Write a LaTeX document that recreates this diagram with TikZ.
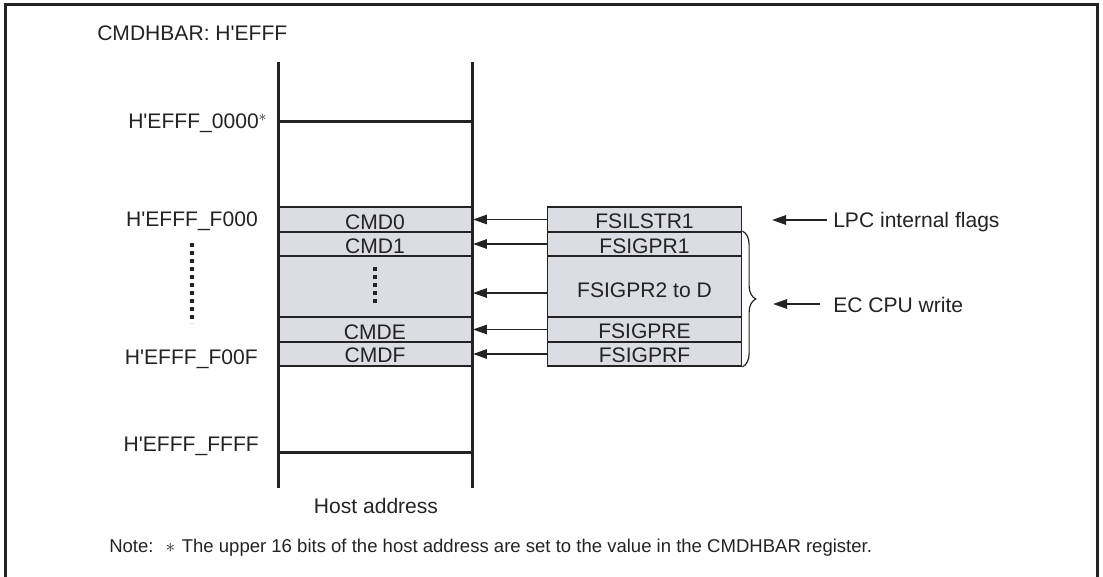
\documentclass[tikz,border=0pt]{standalone}
\usepackage{fontspec}
\setmainfont{Liberation Sans}
\usetikzlibrary{arrows.meta,decorations.pathreplacing}
\definecolor{regfill}{RGB}{220,221,226}
\definecolor{ink}{RGB}{35,35,35}
\newcommand{\qs}{\textquotesingle}
\newcommand{\supast}{\raisebox{5.3pt}{\fontsize{13pt}{13pt}\selectfont$\ast$}}
\begin{document}
\begin{tikzpicture}[x=0.75pt,y=-0.75pt,
  every node/.style={inner sep=0pt, text=ink},
  lbl/.style={font=\fontsize{15.8pt}{19pt}\selectfont},
  notefont/.style={font=\fontsize{13.9pt}{17pt}\selectfont},
  regbox/.style={draw=ink, line width=1.4pt, fill=regfill, minimum width=145.5pt},
  rowa/.style={minimum height=18.75pt},
  rowb/.style={minimum height=18pt},
  rowc/.style={minimum height=45.75pt},
  regtext/.style={lbl, anchor=base},
  thick line/.style={draw=ink, line width=2.25pt},
  arr/.style={draw=ink, line width=1.4pt, -{Triangle[length=10.5pt,width=7pt]}},
  dotline/.style={draw=ink, line width=2.3pt, dash pattern=on 3.3pt off 2.7pt},
  bracestyle/.style={draw=ink, line width=0.9pt, decorate, decoration={brace, amplitude=10pt}}
]
\useasboundingbox (0,0) rectangle (1103,577);

% frame (open at the bottom edge)
\draw[thick line] (5,577) -- (5,5) -- (1097,5) -- (1097,577);

% title
\node[lbl, anchor=base west] (title) at (97,41) {CMDHBAR: H\qs EFFF};

% left column boxes
\node[regbox, rowa] (c0) at (375,219.5) {};
\node[regbox, rowb] (c1) at (375,244) {};
\node[regbox, rowc] (c2) at (375,286.5) {};
\node[regbox, rowa] (c3) at (375,329.5) {};
\node[regbox, rowb] (c4) at (375,354) {};
\node[regtext] (c0t) at ([yshift=2.4pt]c0.south) {CMD0};
\node[regtext] (c1t) at ([yshift=2.4pt]c1.south) {CMD1};
\node[regtext] (c3t) at ([yshift=2.8pt]c3.south) {CMDE};
\node[regtext] (c4t) at ([yshift=3.0pt]c4.south) {CMDF};
\coordinate (cdA) at (375,267);
\coordinate (cdB) at (375,305);
\draw[dotline] (cdA) -- (cdB);

% right column boxes
\node[regbox, rowa] (r0) at (644.5,219.5) {};
\node[regbox, rowb] (r1) at (644.5,244) {};
\node[regbox, rowc] (r2) at (644.5,286.5) {};
\node[regbox, rowa] (r3) at (644.5,329.5) {};
\node[regbox, rowb] (r4) at (644.5,354) {};
\node[regtext] (r0t) at ([yshift=3.0pt]r0.south) {FSILSTR1};
\node[regtext] (r1t) at ([yshift=2.4pt]r1.south) {FSIGPR1};
\node[regtext] (r2t) at ([yshift=-7.9pt]r2.center) {FSIGPR2 to D};
\node[regtext] (r3t) at ([yshift=3.0pt]r3.south) {FSIGPRE};
\node[regtext] (r4t) at ([yshift=3.0pt]r4.south) {FSIGPRF};

% host address column lines
\coordinate (ltop) at (278,62);
\coordinate (lbot) at (278,488);
\coordinate (rtop) at (472,62);
\coordinate (rbot) at (472,488);
\coordinate (a0l) at (278,122);
\coordinate (a0r) at (472,122);
\coordinate (afl) at (278,452);
\coordinate (afr) at (472,452);
\draw[thick line] (ltop) -- (lbot);
\draw[thick line] (rtop) -- (rbot);
\draw[thick line] (a0l) -- (a0r);
\draw[thick line] (afl) -- (afr);

% address labels
\node[lbl, anchor=base east] (a0) at (267,129) {H\qs EFFF\_0000\supast};
\node[lbl, anchor=base east] (a1) at (258,227) {H\qs EFFF\_F000};
\node[lbl, anchor=base east] (a2) at (258,364) {H\qs EFFF\_F00F};
\node[lbl, anchor=base east] (a3) at (259,451) {H\qs EFFF\_FFFF};
\coordinate (ldA) at (192,243);
\coordinate (ldB) at (192,323);
\draw[dotline] (ldA) -- (ldB);

% arrows from flag registers to command registers
\draw[arr] (r0.west) -- (c0.east);
\draw[arr] (r1.west) -- (c1.east);
\draw[arr] ([yshift=-4.9pt]r2.west) -- ([yshift=-4.9pt]c2.east);
\draw[arr] (r3.west) -- (c3.east);
\draw[arr] (r4.west) -- (c4.east);

% brace and right-hand labels
\draw[bracestyle] (r1.north east) -- (r4.south east);
\node[lbl, anchor=base west] (lpc) at (833,228) {LPC internal flags};
\node[lbl, anchor=base west] (ec) at (833,312) {EC CPU write};
\coordinate (lpctail) at (827,220);
\coordinate (lpctip) at (772,220);
\coordinate (ectail) at (820,304);
\coordinate (ectip) at (773,304);
\draw[arr] (lpctail) -- (lpctip);
\draw[arr] (ectail) -- (ectip);

% bottom texts
\node[lbl, anchor=base] (host) at (376,513) {Host address};
\node[notefont, anchor=base west] (note) at (109,552) {Note:\hspace{9pt}$\ast$\hspace{5pt}The upper 16 bits of the host address are set to the value in the CMDHBAR register.};
\end{tikzpicture}
\end{document}
